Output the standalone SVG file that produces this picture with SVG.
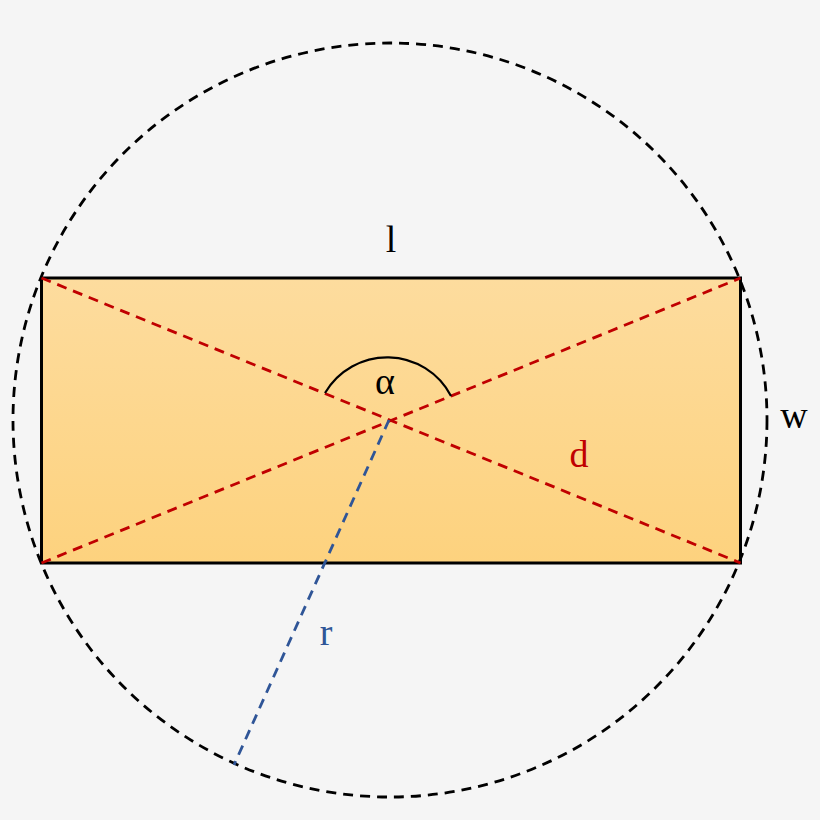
<svg xmlns="http://www.w3.org/2000/svg" width="820" height="820" viewBox="0 0 820 820">
<defs>
<linearGradient id="fill" x1="0" y1="0" x2="0" y2="1">
<stop offset="0" stop-color="#FDDC9E"/>
<stop offset="1" stop-color="#FDD27E"/>
</linearGradient>
<style>
.lbl{font-family:"Liberation Serif",serif;font-size:38px;text-anchor:middle}
.dash{fill:none;stroke-width:2.8;stroke-dasharray:10 7}
</style>
</defs>
<rect width="820" height="820" fill="#F5F5F5"/>
<g id="rectangle">
<rect x="41.5" y="278" width="699" height="285" fill="url(#fill)" stroke="#000" stroke-width="3"/>
</g>
<g id="circle">
<circle cx="390" cy="420" r="377" class="dash" stroke="#000"/>
</g>
<g id="connectors">
<line x1="41.5" y1="278" x2="740.5" y2="563" class="dash" stroke="#C00000"/>
<line x1="41.5" y1="563" x2="740.5" y2="278" class="dash" stroke="#C00000"/>
<line x1="389" y1="420" x2="234" y2="765" class="dash" stroke="#2F5597"/>
<path d="M325,393 A72,72 0 0 1 451,396" fill="none" stroke="#000" stroke-width="2.2"/>
</g>
<g id="labels">
<text class="lbl" x="391" y="252" fill="#000">l</text>
<text class="lbl" x="385" y="394" fill="#000">α</text>
<text class="lbl" x="794" y="428" fill="#000">w</text>
<text class="lbl" x="579" y="467" fill="#C00000">d</text>
<text class="lbl" x="326" y="645" fill="#2F5597">r</text>
</g>
</svg>
